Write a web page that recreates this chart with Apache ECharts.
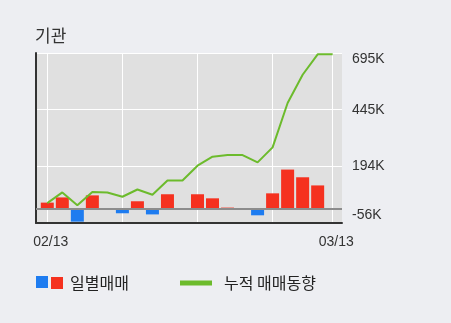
<!DOCTYPE html>
<html><head><meta charset="utf-8">
<script src="https://cdn.jsdelivr.net/npm/echarts@6/dist/echarts.min.js"></script>
<style>html,body{margin:0;padding:0;background:#edeef2}#c{width:451px;height:323px}</style>
</head><body><div id="c"></div><script>
// Data
const dates = ['02/13','02/14','02/15','02/18','02/19','02/20','02/21','02/22','02/25','02/26',
               '02/27','02/28','03/04','03/05','03/06','03/07','03/08','03/11','03/12','03/13'];
const daily = [28, 51, -56, 60, 0, -19, 34, -24, 65, 0, 65, 47, 6, 0, -28, 69, 174, 140, 104, 0];
const cumulative = [32, 79, 22, 81, 79, 60, 92, 69, 132, 132, 197, 237, 244, 244, 212, 278, 474, 599, 689, 689];
const yTickLabels = ['-56K', '194K', '445K', '695K'];
const yTickValues = [-56, 194, 445, 695];
const gridIdx = [0, 5, 10, 15, 19];
const labelIdx = [0, 19];

const FONT = "'Liberation Sans', 'Noto Sans CJK KR', sans-serif";
const KFONT = "'Noto Sans CJK KR', sans-serif";

const chart = echarts.init(document.getElementById('c'), null, {renderer: 'canvas'});
const negData = daily.map((v, i) => [i, v < 0 ? v : '-']);
const posData = daily.map((v, i) => [i, v > 0 ? v : '-']);
const lineData = cumulative.map((v, i) => [i, v]);

function yLabel(v) {
  let best = 0;
  for (let k = 0; k < yTickValues.length; k++) {
    if (Math.abs(yTickValues[k] - v) < Math.abs(yTickValues[best] - v)) best = k;
  }
  const t = yTickLabels[best];
  if (best === yTickValues.length - 1) return '{t|' + t + '}';
  if (best === 0) return '{b|' + t + '}';
  return '{m|' + t + '}';
}
const rs = {fontSize: 14, fontFamily: FONT, color: '#333'};

chart.setOption({
  backgroundColor: '#edeef2',
  animation: false,
  title: {
    text: '기관', left: 35, top: 27, padding: 0,
    textStyle: {fontSize: 17, fontWeight: 'normal', color: '#333', fontFamily: KFONT}
  },
  grid: {left: 36, right: 109, top: 53, bottom: 100, show: true, backgroundColor: '#e0e0e0', borderWidth: 0},
  legend: [
    {data: ['매도'], left: 36, top: 276, padding: 0, icon: 'rect', itemWidth: 12, itemHeight: 12,
     formatter: () => '', textStyle: {fontSize: 16, fontFamily: KFONT}},
    {data: ['일별매매'], left: 51, top: 275, padding: 0, icon: 'rect', itemWidth: 12, itemHeight: 12,
     textStyle: {fontSize: 16, color: '#222', fontFamily: KFONT, padding: [0, 0, 0, 2]}},
    {data: ['누적 매매동향'], left: 180, top: 275, padding: 0, icon: 'rect', itemWidth: 32, itemHeight: 5,
     textStyle: {fontSize: 16, color: '#222', fontFamily: KFONT, padding: [0, 0, 0, 7]}}
  ],
  xAxis: {
    type: 'value', min: -0.752, max: 19.62,
    axisLine: {show: true, onZero: false, lineStyle: {color: '#333', width: 2}},
    axisTick: {show: false, customValues: gridIdx},
    axisLabel: {customValues: labelIdx, formatter: v => dates[Math.round(v)], fontSize: 14, fontFamily: FONT,
      color: '#333', margin: 12, padding: [0, 0, 0, 7]},
    splitLine: {show: true, lineStyle: {color: '#ffffff', width: 1}}
  },
  yAxis: [
    {type: 'value', position: 'left', min: -62, max: 689,
     axisLine: {show: true, onZero: false, lineStyle: {color: '#333', width: 2}},
     axisTick: {show: false}, axisLabel: {show: false}, splitLine: {show: false}},
    {type: 'value', position: 'right', min: -56, max: 695, interval: 250.33333333,
     axisLine: {show: false}, axisTick: {show: false},
     axisLabel: {margin: 10, formatter: yLabel, fontSize: 14, fontFamily: FONT, color: '#333',
       rich: {t: Object.assign({padding: [12, 0, 0, 0]}, rs), b: Object.assign({padding: [0, 0, 16, 0]}, rs), m: rs}},
     splitLine: {show: true, lineStyle: {color: '#ffffff', width: 1}}}
  ],
  series: [
    {name: '매도', type: 'bar', yAxisIndex: 0, stack: 'd', barWidth: 13, data: negData,
     itemStyle: {color: '#1e7cf0'}},
    {name: '일별매매', type: 'bar', yAxisIndex: 0, stack: 'd', barWidth: 13, data: posData,
     itemStyle: {color: '#f5311f'},
     markLine: {silent: true, symbol: 'none', label: {show: false},
       lineStyle: {color: '#8c8c8c', width: 2, type: 'solid'}, data: [{yAxis: 0}]}},
    {name: '누적 매매동향', type: 'line', yAxisIndex: 1, data: lineData, showSymbol: false, symbol: 'none',
     lineStyle: {color: '#6cbb2c', width: 2}, itemStyle: {color: '#6cbb2c'}, z: 5}
  ]
});
</script></body></html>
